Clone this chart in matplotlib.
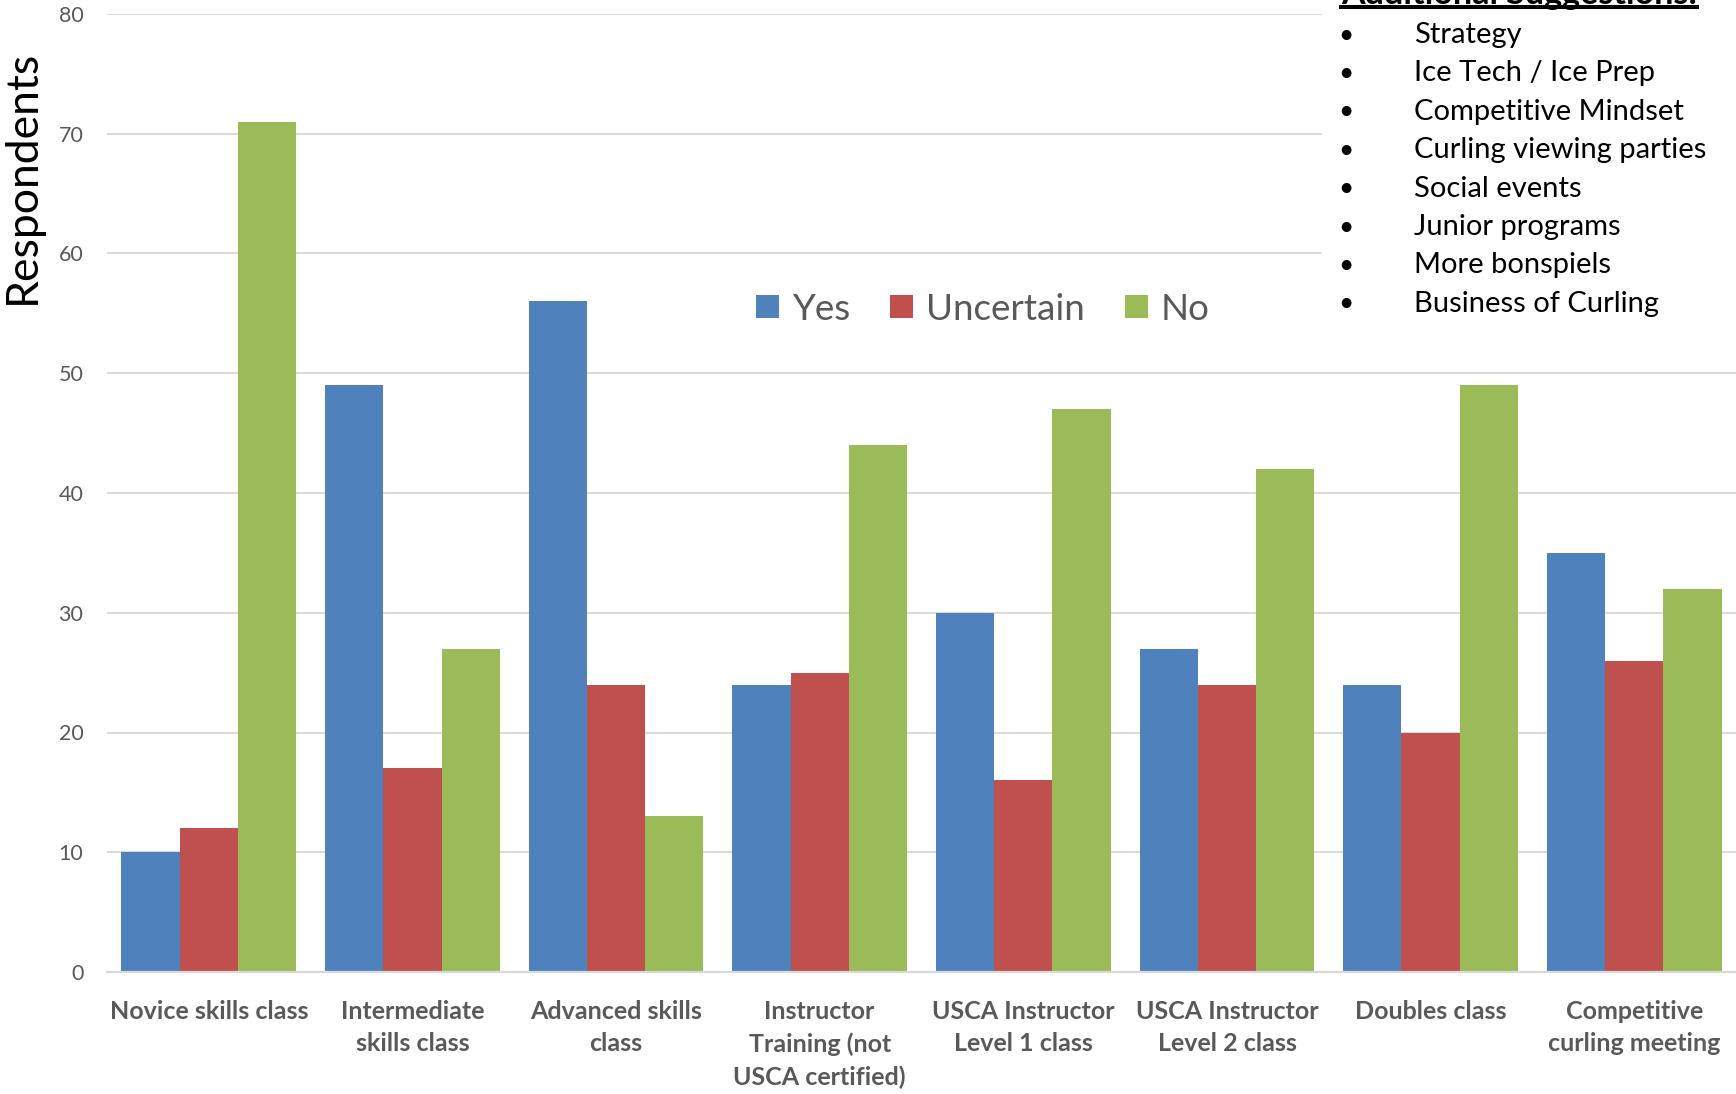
import matplotlib
matplotlib.use('Agg')
import matplotlib.pyplot as plt
import numpy as np
from matplotlib.patches import Rectangle
from matplotlib.lines import Line2D

plt.rcParams['font.family'] = ['Lato', 'DejaVu Sans']

categories = ['Novice skills class', 'Intermediate\nskills class', 'Advanced skills\nclass',
              'Instructor\nTraining (not\nUSCA certified)', 'USCA Instructor\nLevel 1 class',
              'USCA Instructor\nLevel 2 class', 'Doubles class', 'Competitive\ncurling meeting']
yes = [10, 49, 56, 24, 30, 27, 24, 35]
uncertain = [12, 17, 24, 25, 16, 24, 20, 26]
no = [71, 27, 13, 44, 47, 42, 49, 32]
series_names = ['Yes', 'Uncertain', 'No']
colors = ['#4F81BD', '#C0504D', '#9BBB59']

suggestions_title = 'Additional Suggestions:'
suggestions = ['Strategy', 'Ice Tech / Ice Prep', 'Competitive Mindset',
               'Curling viewing parties', 'Social events', 'Junior programs',
               'More bonspiels', 'Business of Curling']

W, H = 1736, 1094
fig = plt.figure(figsize=(W / 100, H / 100), dpi=100)
ax = fig.add_axes([107 / W, (H - 972) / H, (W - 107) / W, (972 - 14) / H])

x = np.arange(len(categories))
w = 0.286
for i, (vals, name, c) in enumerate(zip([yes, uncertain, no], series_names, colors)):
    ax.bar(x + (i - 1) * w, vals, w, color=c, label=name, zorder=3)

ax.set_xlim(-0.5, len(categories) - 0.5)
ax.set_ylim(0, 80)
ax.set_yticks(range(0, 81, 10))
ax.yaxis.grid(True, color='#D9D9D9', lw=1.4, zorder=0)
for s in ['top', 'right', 'left']:
    ax.spines[s].set_visible(False)
ax.spines['bottom'].set_color('#D9D9D9')
ax.spines['bottom'].set_linewidth(1.6)
ax.spines['bottom'].set_zorder(4)
ax.tick_params(axis='y', length=0, pad=17, labelsize=15.5, labelcolor='#595959')
ax.tick_params(axis='x', length=0, pad=20)
ax.set_xticks(x)
ax.set_xticklabels(categories, fontsize=18, fontweight='bold', color='#595959',
                   linespacing=1.5)

fig.text(22 / W, 1 - 177 / H, 'Respondents', rotation=90, fontsize=32,
         ha='center', va='center', color='black')

leg = ax.legend(loc='center', bbox_to_anchor=(983 / W, 1 - 309 / H),
                bbox_transform=fig.transFigure, ncol=3, frameon=False,
                fontsize=26.5, handlelength=0.62, handleheight=0.62,
                handletextpad=0.35, columnspacing=1.1)
for t in leg.get_texts():
    t.set_color('#595959')

# white text box over the upper right of the plot
fig.patches.append(Rectangle((1322 / W, 1 - 335 / H), (W - 1322) / W, 335 / H,
                             transform=fig.transFigure, facecolor='white',
                             edgecolor='none', zorder=5))
title = fig.text(1341 / W, 1 - 4 / H, suggestions_title, fontsize=24, fontweight='bold',
                 ha='left', va='baseline', zorder=6)
# fit the title width to the underline length
r = fig.canvas.get_renderer()
tw = title.get_window_extent(r).width
title.set_fontsize(24 * 356 / tw)
fig.add_artist(Line2D([1341 / W, 1697 / W], [1 - 6.7 / H, 1 - 6.7 / H],
                      color='black', lw=2.9, zorder=6))
for k, item in enumerate(suggestions):
    yy = 1 - (35 + 38.4 * k) / H
    fig.text(1346 / W, yy, '\u2022', fontsize=19, ha='center', va='center', zorder=6)
    fig.text(1414 / W, yy, item, fontsize=21, ha='left', va='center', zorder=6)

fig.savefig('out.png', dpi=100)
